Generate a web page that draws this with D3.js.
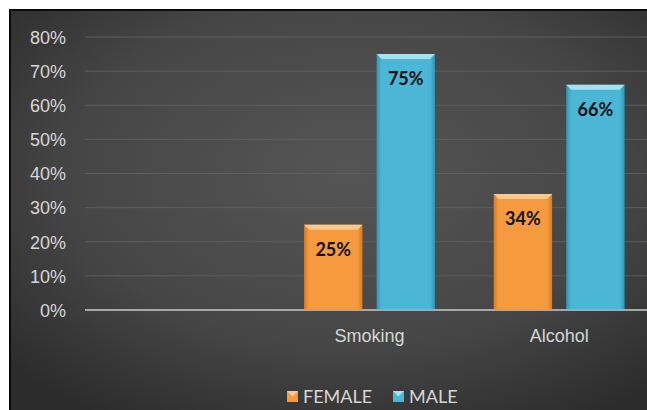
<!DOCTYPE html>
<html>
<head>
<meta charset="utf-8">
<script src="https://cdn.jsdelivr.net/npm/d3@7"></script>
<style>
  html, body { margin: 0; padding: 0; background: #ffffff; }
  svg { display: block; font-family: Lato, "Open Sans", sans-serif; }
</style>
</head>
<body>
<svg id="chart" width="647" height="410"></svg>
<script>
// Chart data
const categories = ["", "Smoking", "Alcohol"];
const seriesNames = ["FEMALE", "MALE"];
const femaleValues = [null, 25, 34];
const maleValues = [null, 75, 66];
const yTicks = [0, 10, 20, 30, 40, 50, 60, 70, 80];

const seriesValues = [femaleValues, maleValues];
const seriesColors = [
  { base: "#f59a3e", light: "#fcc98a", dark: "#d97a1f" },
  { base: "#4bb6d6", light: "#9fe3f5", dark: "#2f95b6" }
];

const svg = d3.select("#chart");
const W = 647, H = 410;

const defs = svg.append("defs");

// Dark background with a lighter centre
const bg = defs.append("radialGradient").attr("id", "bgGrad")
  .attr("cx", "52%").attr("cy", "40%").attr("r", "70%");
bg.append("stop").attr("offset", "0%").attr("stop-color", "#555555");
bg.append("stop").attr("offset", "60%").attr("stop-color", "#464646");
bg.append("stop").attr("offset", "100%").attr("stop-color", "#2c2c2c");

// Horizontal shading for the bevelled bars
seriesColors.forEach((c, i) => {
  const g = defs.append("linearGradient").attr("id", "barGrad" + i)
    .attr("x1", "0%").attr("x2", "100%").attr("y1", "0%").attr("y2", "0%");
  g.append("stop").attr("offset", "0%").attr("stop-color", c.dark);
  g.append("stop").attr("offset", "8%").attr("stop-color", c.base);
  g.append("stop").attr("offset", "92%").attr("stop-color", c.base);
  g.append("stop").attr("offset", "100%").attr("stop-color", c.dark);
});

// Chart frame
svg.append("rect").attr("x", 10).attr("y", 10).attr("width", W).attr("height", H)
  .attr("fill", "url(#bgGrad)");
svg.append("line").attr("x1", 10).attr("x2", 10).attr("y1", 9).attr("y2", H)
  .attr("stroke", "#0a0a0a").attr("stroke-width", 2);
svg.append("line").attr("x1", 9).attr("x2", W).attr("y1", 10).attr("y2", 10)
  .attr("stroke", "#0a0a0a").attr("stroke-width", 2);

// Scales
const plotLeft = 85, plotRight = 654, plotTop = 37, plotBottom = 310;
const x0 = d3.scaleBand().domain(categories.map((d, i) => i))
  .range([plotLeft, plotRight]).paddingInner(0.31).paddingOuter(0.155);
const x1 = d3.scaleBand().domain(seriesNames).range([0, x0.bandwidth()]).paddingInner(0.195);
const y = d3.scaleLinear().domain([0, 80]).range([plotBottom, plotTop]);

// Gridlines
svg.append("g").selectAll("line").data(yTicks.filter(t => t > 0)).join("line")
  .attr("x1", plotLeft).attr("x2", W)
  .attr("y1", d => y(d)).attr("y2", d => y(d))
  .attr("stroke", "#5e5e5e").attr("stroke-width", 1);

// Y axis labels
const yAxis = d3.axisLeft(y).tickValues(yTicks).tickFormat(d => d + "%").tickSize(0).tickPadding(0);
const yg = svg.append("g").attr("transform", `translate(66,0)`).call(yAxis);
yg.select(".domain").remove();
yg.selectAll("text").attr("fill", "#d6d6d6").attr("font-size", 18).attr("dy", "0.35em");

// Bars
const bars = svg.append("g");
categories.forEach((cat, ci) => {
  seriesNames.forEach((s, si) => {
    const v = seriesValues[si][ci];
    if (v == null) return;
    const bx = x0(ci) + x1(s);
    const bw = x1.bandwidth();
    const by = y(v);
    const bh = plotBottom - by;
    const c = seriesColors[si];
    const g = bars.append("g");
    g.append("rect").attr("x", bx).attr("y", by).attr("width", bw).attr("height", bh)
      .attr("fill", `url(#barGrad${si})`);
    // bevel highlight along the top edge
    const b = 5;
    g.append("path")
      .attr("d", `M${bx},${by} L${bx + bw},${by} L${bx + bw - b},${by + b} L${bx + b},${by + b} Z`)
      .attr("fill", c.light);
    // value label
    g.append("text").attr("x", bx + bw / 2).attr("y", by + 25)
      .attr("text-anchor", "middle").attr("dy", "0.35em")
      .attr("font-size", 18).attr("font-weight", "bold").attr("fill", "#111")
      .text(v + "%");
  });
});

// X axis line and category labels
svg.append("line").attr("x1", plotLeft).attr("x2", W)
  .attr("y1", plotBottom).attr("y2", plotBottom)
  .attr("stroke", "#a8a8a8").attr("stroke-width", 2);
const xAxis = d3.axisBottom(x0).tickFormat(i => categories[i]).tickSize(0).tickPadding(0);
const xg = svg.append("g").attr("transform", `translate(0,${plotBottom})`).call(xAxis);
xg.select(".domain").remove();
xg.selectAll("text").attr("fill", "#d6d6d6").attr("font-size", 18).attr("y", 26).attr("dy", "0.35em");

// Legend
const legendItems = [
  { name: seriesNames[0], x: 287, c: seriesColors[0] },
  { name: seriesNames[1], x: 393, c: seriesColors[1] }
];
const lg = svg.append("g");
legendItems.forEach((it, i) => {
  const g = lg.append("g");
  g.append("rect").attr("x", it.x).attr("y", 391).attr("width", 11).attr("height", 11)
    .attr("fill", it.c.base);
  g.append("path").attr("d", `M${it.x},391 L${it.x + 11},391 L${it.x + 5.5},396.5 Z`)
    .attr("fill", it.c.light);
  g.append("text").attr("x", it.x + 16).attr("y", 397).attr("dy", "0.35em")
    .attr("font-size", 18).attr("fill", "#d6d6d6").text(it.name);
});
</script>
</body>
</html>
